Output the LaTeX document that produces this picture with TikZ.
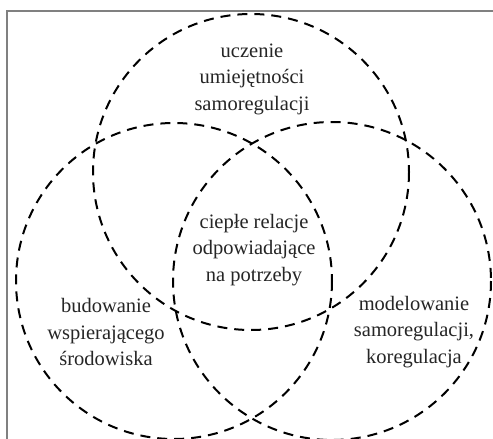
\documentclass[tikz,border=0pt]{standalone}
\usepackage{fontspec}
\setmainfont{Liberation Serif}
\begin{document}
\begin{tikzpicture}[x=1pt,y=-1pt,
  ring/.style={draw=black,line width=2pt,dash pattern=on 10pt off 7pt},
  lbl/.style={align=center,font=\fontsize{20.5}{26.5}\selectfont,text=black!85,inner sep=0pt}]
\useasboundingbox (0,0) rectangle (493,439);
\begin{scope}
\clip (0,0) rectangle (493,439);
\fill[white] (0,0) rectangle (493,439);
\draw[gray,line width=1.3pt] (7,445) -- (7,11) -- (500,11);
\draw[ring] (251,172) circle (158);
\draw[ring] (174,281) circle (158);
\draw[ring] (332,281) circle (159);
\end{scope}
\node[lbl] (top) at (252,79) {uczenie\\umiejętności\\samoregulacji};
\node[lbl] (mid) at (254,250) {ciepłe relacje\\odpowiadające\\na potrzeby};
\node[lbl] (left) at (106,332) {budowanie\\wspierającego\\środowiska};
\node[lbl] (right) at (414,332) {modelowanie\\samoregulacji,\\koregulacja};
\end{tikzpicture}
\end{document}
